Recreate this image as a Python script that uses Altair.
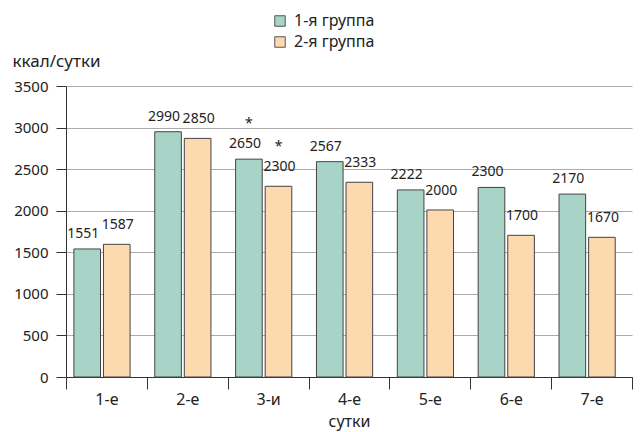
import altair as alt
import pandas as pd

days = ["1-е", "2-е", "3-и", "4-е", "5-е", "6-е", "7-е"]
groups = ["1-я группа", "2-я группа"]
values_g1 = [1540, 2950, 2620, 2590, 2250, 2280, 2200]
values_g2 = [1596, 2870, 2294, 2342, 2009, 1704, 1680]
labels_g1 = ["1551", "2990", "2650", "2567", "2222", "2300", "2170"]
labels_g2 = ["1587", "2850", "2300", "2333", "2000", "1700", "1670"]
stars_g1 = ["", "", "*", "", "", "", ""]
stars_g2 = ["", "", "*", "", "", "", ""]
colors = ["#a8d4c8", "#fdd9b0"]

rows = []
for i, d in enumerate(days):
    rows.append(dict(day=d, group=groups[0], value=values_g1[i], label=labels_g1[i], star=stars_g1[i]))
    rows.append(dict(day=d, group=groups[1], value=values_g2[i], label=labels_g2[i], star=stars_g2[i]))
df = pd.DataFrame(rows)

FONT = "Noto Sans"
TXT = "#222"

x = alt.X("day:N", sort=days, scale=alt.Scale(paddingInner=0, paddingOuter=0),
          axis=alt.Axis(title="сутки", labelAngle=0, tickBand="extent", tickSize=12,
                        tickColor="#333", domainColor="#333", labelPadding=2,
                        labelFontSize=16, titleFontSize=16, titleFontWeight="normal",
                        titlePadding=6, labelColor=TXT, titleColor=TXT))
xo = alt.XOffset("group:N", sort=groups,
                 scale=alt.Scale(paddingInner=0.1, paddingOuter=0.417, align=0.32))
y = alt.Y("value:Q", scale=alt.Scale(domain=[0, 3500], nice=False),
          axis=alt.Axis(values=[0, 500, 1000, 1500, 2000, 2500, 3000, 3500], format="d",
                        title="ккал/сутки", titleAngle=0, titleAlign="left",
                        titleBaseline="middle", titleX=-54, titleY=-25,
                        titleFontSize=17, titleFontWeight="normal",
                        grid=True, gridColor="#aaaaaa", tickColor="#333", tickSize=10,
                        domainColor="#333", labelPadding=8, labelFontSize=15,
                        labelColor=TXT, titleColor=TXT))

base = alt.Chart(df)

bars = base.mark_bar(stroke="#444", strokeWidth=1).encode(
    x=x, xOffset=xo, y=y,
    color=alt.Color("group:N", sort=groups,
                    scale=alt.Scale(domain=groups, range=colors),
                    legend=alt.Legend(title=None, orient="none", legendX=206, legendY=-73,
                                      symbolType="square", symbolSize=110,
                                      symbolStrokeColor="#555", symbolStrokeWidth=1,
                                      labelFontSize=16, rowPadding=5, labelColor=TXT,
                                      labelOffset=6)),
)

lab1 = base.mark_text(fontSize=14, dx=-4, dy=-11, baseline="alphabetic", color=TXT, font=FONT).encode(
    x=x, xOffset=xo, y=y, text="label:N"
).transform_filter(alt.datum.group == groups[0])
lab2 = base.mark_text(fontSize=14, dx=1, dy=-15, baseline="alphabetic", color=TXT, font=FONT).encode(
    x=x, xOffset=xo, y=y, text="label:N"
).transform_filter(alt.datum.group == groups[1])
st1 = base.mark_text(fontSize=14, dy=-31, baseline="alphabetic", color=TXT, font=FONT).encode(
    x=x, xOffset=xo, y=y, text="star:N"
).transform_filter(alt.datum.group == groups[0])
st2 = base.mark_text(fontSize=14, dy=-35, baseline="alphabetic", color=TXT, font=FONT).encode(
    x=x, xOffset=xo, y=y, text="star:N"
).transform_filter(alt.datum.group == groups[1])

chart = alt.layer(bars, lab1, lab2, st1, st2).properties(
    width=566, height=291,
    padding={"left": 4, "top": 5, "right": 0, "bottom": 5},
).configure(font=FONT).configure_view(stroke=None)

chart.save("out.html", embed_options={"renderer": "svg", "actions": False})
